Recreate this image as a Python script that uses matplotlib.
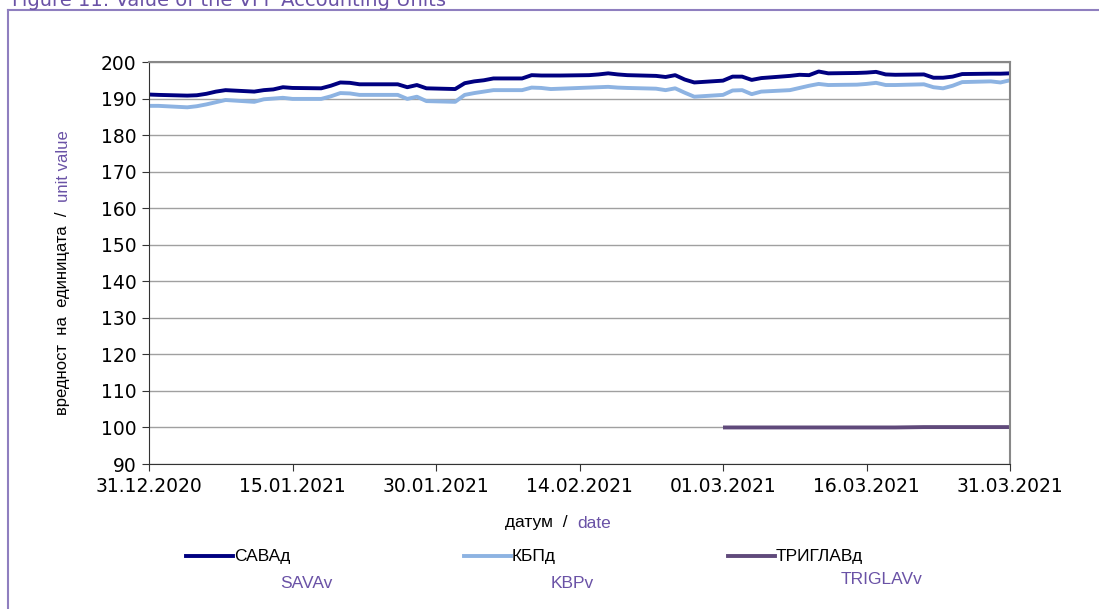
import matplotlib
matplotlib.use("Agg")
import matplotlib.pyplot as plt
import matplotlib.dates as mdates
from matplotlib.lines import Line2D
import numpy as np
import pandas as pd

plt.rcParams['font.family'] = ['DejaVu Sans']

# business days, 31.12.2020 - 31.03.2021
dates = pd.bdate_range("2020-12-31", "2021-03-31")

sava = [191.1, 191.0,
        190.8, 190.9, 191.3, 191.9, 192.3,
        191.9, 192.3, 192.5, 193.1, 192.9,
        192.8, 193.5, 194.4, 194.3, 193.9,
        193.9, 193.9, 193.1, 193.7, 192.8,
        192.6, 194.2, 194.7, 195.0, 195.5,
        195.5, 196.4, 196.3, 196.3, 196.3,
        196.4, 196.6, 196.9, 196.6, 196.4,
        196.2, 195.9, 196.4, 195.2, 194.4,
        194.9, 196.0, 196.0, 195.1, 195.6,
        196.2, 196.5, 196.4, 197.4, 196.9,
        197.0, 197.1, 197.3, 196.6, 196.5,
        196.6, 195.7, 195.7, 196.0, 196.7,
        196.8, 196.8, 196.9]

kbp = [188.0, 188.0,
       187.6, 187.9, 188.4, 189.0, 189.6,
       189.1, 189.8, 190.0, 190.2, 189.9,
       189.9, 190.6, 191.5, 191.4, 191.0,
       191.0, 191.0, 189.9, 190.5, 189.3,
       189.1, 191.0, 191.5, 191.9, 192.3,
       192.3, 193.0, 192.9, 192.6, 192.7,
       193.0, 193.1, 193.2, 193.0, 192.9,
       192.7, 192.3, 192.8, 191.6, 190.5,
       191.0, 192.2, 192.3, 191.2, 191.9,
       192.3, 192.9, 193.5, 194.0, 193.7,
       193.8, 194.0, 194.3, 193.7, 193.7,
       193.9, 193.1, 192.8, 193.5, 194.5,
       194.7, 194.4, 195.0]

# TRIGLAV fund starts on 01.03.2021
triglav = [np.nan] * 42 + [
    100.0, 100.0, 100.0, 100.0, 100.0,
    100.0, 100.0, 100.0, 100.0, 100.0,
    100.0, 100.0, 100.0, 100.0, 100.0,
    100.1, 100.1, 100.1, 100.1, 100.1,
    100.1, 100.1, 100.1]

series_bg = ["САВАд", "КБПд", "ТРИГЛАВд"]
series_en = ["SAVAv", "KBPv", "TRIGLAVv"]
colors = ["#000080", "#8db3e2", "#604a7b"]
purple = "#6a52a6"
lab_font = dict(family=['Liberation Sans', 'DejaVu Sans'], fontsize=12.5)
ylab_font = dict(family=['Liberation Sans', 'DejaVu Sans'], fontsize=12)

xtick_dates = pd.date_range("2020-12-31", "2021-03-31", freq="15D")

W, H = 1099, 609
fig = plt.figure(figsize=(W / 100, H / 100), dpi=100)
ax = fig.add_axes([149 / W, 1 - 464 / H, 861 / W, 402 / H])

for vals, col in zip([sava, kbp, triglav], colors):
    ax.plot(dates, vals, color=col, lw=2.8, solid_capstyle='butt')

ax.set_ylim(90, 200)
ax.set_yticks(np.arange(90, 201, 10))
ax.set_xlim(dates[0], dates[-1])
ax.set_xticks(xtick_dates)
ax.xaxis.set_major_formatter(mdates.DateFormatter("%d.%m.%Y"))
ax.tick_params(labelsize=13.5, length=5, color='#333333', pad=4)
ax.grid(axis='y', color='#a0a0a0', lw=1)
ax.set_axisbelow(True)
ax.spines['left'].set_color('#333333')
ax.spines['bottom'].set_color('#333333')
ax.spines['top'].set_color('#888888')
ax.spines['right'].set_color('#888888')
ax.spines['top'].set_linewidth(1.5)
ax.spines['right'].set_linewidth(1.5)

# outer frame + clipped title
fig.add_artist(Line2D([8 / W, 1], [1 - 10 / H] * 2, color='#8f7fbf', lw=1.5))
fig.add_artist(Line2D([8 / W] * 2, [0, 1 - 10 / H], color='#8f7fbf', lw=1.5))
fig.text(12 / W, 1 - 6 / H, "Figure 11: Value of the VPF Accounting Units",
         color=purple, fontsize=14, va='baseline')

fig.canvas.draw()
r = fig.canvas.get_renderer()

# y label in two colours
yl = fig.text(63 / W, 1 - 415 / H, "вредност  на  единицата  /  ", rotation=90,
              ha='center', va='bottom', **ylab_font)
top = yl.get_window_extent(r).y1
fig.text(63 / W, top / H, "unit value", rotation=90,
         ha='center', va='bottom', color=purple, **ylab_font)

# x label in two colours
xl = fig.text(505 / W, 1 - 523 / H, "датум  /  ", ha='left', va='center', **lab_font)
right = xl.get_window_extent(r).x1
fig.text(right / W, 1 - 523 / H, "date", ha='left', va='center', color=purple, **lab_font)

# legend
leg_x = [186, 464, 728]
en_x = [306, 572, 882]
en_y = [583, 583, 579]
for name, en, col, lx, ex, ey in zip(series_bg, series_en, colors, leg_x, en_x, en_y):
    fig.add_artist(Line2D([lx / W, (lx + 47) / W], [1 - 556 / H] * 2, color=col, lw=2.8))
    fig.text((lx + 48) / W, 1 - 556 / H, name, va='center', **lab_font)
    fig.text(ex / W, 1 - ey / H, en, ha='center', va='center', color=purple, **lab_font)

fig.savefig("out.png", dpi=100)
